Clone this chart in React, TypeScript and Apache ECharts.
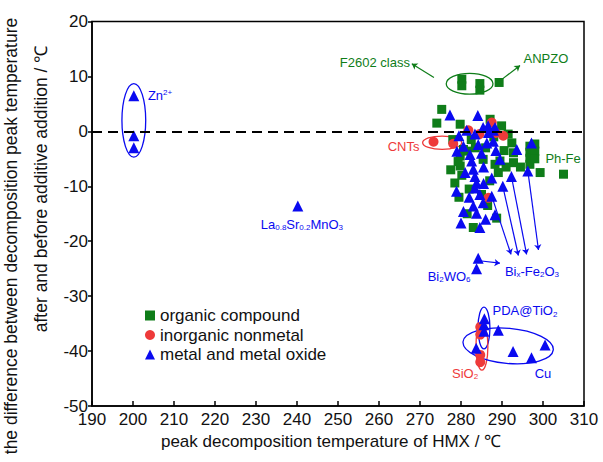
import React, { useEffect, useRef } from "react";
import * as echarts from "echarts";

const FONT = '"Liberation Sans", Arial, Helvetica, sans-serif';
const GREEN = "#0f7d19";
const RED = "#ee3a3a";
const BLUE = "#0a0af0";

const X_MIN = 190, X_MAX = 310, X_STEP = 10;
const Y_MIN = -50, Y_MAX = 20, Y_STEP = 10;

const seriesNames = ["organic compound", "inorganic nonmetal", "metal and metal oxide"];

const organic: number[][] = [
  [275.3, 4.0], [274.1, 1.5], [280.2, 9.5], [280.2, 8.3], [284.6, 8.7], [284.6, 7.5], [289.3, 8.9],
  [287.1, 2.2], [289.9, 1.0], [292.4, -2.1], [292.8, -3.9], [292.8, -5.7], [289.5, -5.4], [289.1, -7.5], [285.4, -5.1],
  [296.8, -2.7], [296.8, -3.8], [296.8, -4.9], [296.8, -6.0], [298.0, -2.3], [298.0, -3.6], [298.0, -5.0], [299.3, -7.5], [305.0, -7.8],
  [278.5, -9.4], [279.8, -4.5], [279.8, -6.3], [280.2, -8.0], [288.3, -6.0], [285.0, -11.5], [288.7, -15.8], [281.4, -3.6],
  [279.8, 1.3], [280.6, -3.3], [279.3, -5.5], [282.5, -1.5], [286.0, -3.0], [288.0, -1.0], [283.5, -3.0], [290.5, -3.5],
  [291.0, -6.5], [287.0, -9.0], [282.0, -10.5], [279.5, -12.0], [286.5, -13.5], [281.5, -15.0], [294.5, -6.5], [291.5, -0.5],
  [278.0, -1.5], [277.5, -7.0], [283.0, -17.5],
];

const inorganic: number[][] = [
  [273.3, -1.9], [278.1, -2.25], [281.8, 0.2], [287.5, 1.6], [290.3, -0.8], [286.7, -12.1], [284.5, -0.5], [288.5, -0.3],
  [284.7, -35.6], [284.7, -37.0], [284.7, -40.7], [284.7, -42.0],
];

const metal: number[][] = [
  [200.2, 6.5], [200.2, -0.8], [200.2, -3.0], [240.2, -13.6],
  [277.3, 3.0], [284.1, 2.9],
  [281.4, 0.2], [283.4, -0.5], [285.4, 0.7], [286.7, -0.2], [288.3, 0.7], [280.6, -2.7], [282.2, -4.2], [284.2, -2.4],
  [286.3, -2.1], [287.9, -1.8], [286.6, 1.0], [287.9, 0.2],
  [282.6, -5.4], [283.0, -6.9], [283.4, -8.2], [283.8, -9.4], [283.4, -10.3], [284.6, -11.5], [283.0, -13.6], [280.6, -14.6],
  [283.8, -14.9], [278.9, -10.9], [285.4, -13.0], [287.5, -8.5], [288.3, -15.2], [279.0, -3.6],
  [297.2, -2.1], [293.6, -3.3], [289.5, -5.1],
  [287.5, -11.8], [290.2, -10.0], [292.3, -8.2], [296.3, -7.2],
  [280.0, -16.7], [284.6, -17.5], [286.0, -16.0], [282.0, -12.0], [285.5, -6.5], [285.0, -4.0], [288.5, -3.5],
  [281.0, -7.5], [285.5, -9.5], [279.5, -0.8],
  [284.2, -23.1], [283.8, -25.0],
  [285.7, -34.1], [285.6, -35.2], [285.6, -36.4], [289.1, -36.2], [283.7, -39.5], [292.7, -40.1], [297.2, -41.2], [300.5, -38.9],
];

// ellipse annotations: [cx, cy, rx, ry, rotation(rad)]
const ellipseData: number[][] = [
  [200.2, 2.0, 2.9, 6.7, 0],
  [275.4, -2.07, 4.76, 1.22, 0],
  [282.1, 8.67, 5.7, 1.9, 0],
  [285.6, -35.8, 1.46, 3.8, 0],
  [285.1, -39.2, 1.46, 4.26, 0],
  [291.5, -39.05, 11.05, 3.2, -0.09],
];
const ellipseColors = [BLUE, RED, GREEN, BLUE, RED, BLUE];

// arrows: [x1, y1, x2, y2]
const arrowData: number[][] = [
  [273.4, 9.8, 268.0, 12.3],
  [290.2, 9.6, 294.4, 12.0],
  [285.0, -23.6, 289.5, -24.0],
  [287.5, -11.8, 292.2, -22.4],
  [290.2, -10.0, 294.0, -22.6],
  [292.3, -8.2, 296.0, -22.4],
  [296.3, -7.2, 298.9, -21.6],
];
const arrowColors = [GREEN, GREEN, BLUE, BLUE, BLUE, BLUE, BLUE];

const labelTexts = [
  "Zn{sup|2+}", "La{sub|0.8}Sr{sub|0.2}MnO{sub|3}", "F2602 class", "ANPZO", "CNTs", "Ph-Fe",
  "Bi{sub|2}WO{sub|6}", "Bi{sub|x}-Fe{sub|2}O{sub|3}", "PDA@TiO{sub|2}", "SiO{sub|2}", "Cu",
];
const labelPos: number[][] = [
  [206.6, 6.5], [241.2, -16.9], [259.0, 12.5], [300.7, 13.2], [266.0, -2.7], [304.9, -4.9],
  [277.1, -26.4], [297.3, -25.5], [295.6, -32.7], [281.0, -44.0], [300.0, -44.0],
];
const labelColors = [BLUE, BLUE, GREEN, GREEN, RED, GREEN, BLUE, BLUE, BLUE, RED, BLUE];

const yNameLines = [
  "the difference between decomposition peak temperature",
  "after and before additive addition / \u2103",
];

export default function App() {
  const ref = useRef<HTMLDivElement>(null);
  useEffect(() => {
    const chart = echarts.init(ref.current!, null, { renderer: "svg" });
    const option: any = {
      animation: false,
      backgroundColor: "#fff",
      textStyle: { fontFamily: FONT },
      grid: { left: 92, right: 19, top: 21.5, bottom: 56, show: true, borderColor: "#000", borderWidth: 1.5, backgroundColor: "transparent" },
      legend: {
        orient: "vertical",
        left: 140,
        top: 302,
        itemWidth: 10,
        itemHeight: 10,
        itemGap: 2.5,
        textStyle: { fontSize: 17, fontFamily: FONT, color: "#111", lineHeight: 17, padding: [0, 0, 0, 0] },
        data: [
          { name: seriesNames[0], icon: "rect", itemStyle: { color: GREEN } },
          { name: seriesNames[1], icon: "circle", itemStyle: { color: RED } },
          { name: seriesNames[2], icon: "triangle", itemStyle: { color: BLUE } },
        ],
      },
      xAxis: {
        type: "value",
        min: X_MIN,
        max: X_MAX,
        interval: X_STEP,
        name: "peak decomposition temperature of HMX / \u2103",
        nameLocation: "middle",
        nameGap: 24,
        nameTextStyle: { fontSize: 17, color: "#111", fontFamily: FONT, padding: [0, 14, 0, 0] },
        axisLine: { onZero: false, lineStyle: { color: "#000", width: 1.5 } },
        axisTick: { inside: true, length: 5, lineStyle: { color: "#000", width: 1.5 } },
        axisLabel: { fontSize: 17, color: "#111", margin: 5, fontFamily: FONT, showMinLabel: true, showMaxLabel: true },
        splitLine: { show: false },
      },
      yAxis: {
        type: "value",
        min: Y_MIN,
        max: Y_MAX,
        interval: Y_STEP,
        axisLine: { onZero: false, lineStyle: { color: "#000", width: 1.5 } },
        axisTick: { inside: false, length: 4, lineStyle: { color: "#000", width: 1.5 } },
        axisLabel: { fontSize: 17, color: "#111", margin: 4, fontFamily: FONT },
        splitLine: { show: false },
      },
      series: [
        {
          type: "custom",
          name: "ellipses",
          silent: true,
          z: 1,
          data: ellipseData,
          renderItem: (params: any, api: any) => {
            const c = api.coord([api.value(0), api.value(1)]);
            const s = api.size([api.value(2), api.value(3)]);
            return {
              type: "ellipse",
              x: c[0],
              y: c[1],
              rotation: api.value(4),
              shape: { cx: 0, cy: 0, rx: s[0], ry: s[1] },
              style: { fill: "none", stroke: ellipseColors[params.dataIndex], lineWidth: 1.3 },
            };
          },
        },
        {
          type: "scatter",
          name: seriesNames[0],
          symbol: "rect",
          symbolSize: 9,
          itemStyle: { color: GREEN, opacity: 1 },
          z: 2,
          data: organic,
          markLine: {
            silent: true,
            symbol: "none",
            label: { show: false },
            lineStyle: { color: "#000", width: 2, type: [10, 6] },
            data: [{ yAxis: 0 }],
          },
        },
        {
          type: "scatter",
          name: seriesNames[1],
          symbol: "circle",
          symbolSize: 10,
          itemStyle: { color: RED, opacity: 1 },
          z: 3,
          data: inorganic,
        },
        {
          type: "scatter",
          name: seriesNames[2],
          symbol: "triangle",
          symbolSize: 11,
          itemStyle: { color: BLUE, opacity: 1 },
          z: 4,
          data: metal,
        },
        {
          type: "lines",
          name: "arrows",
          coordinateSystem: "cartesian2d",
          silent: true,
          z: 5,
          symbol: ["none", "arrow"],
          symbolSize: 5.5,
          data: arrowData.map((a, i) => ({
            coords: [[a[0], a[1]], [a[2], a[3]]],
            lineStyle: { color: arrowColors[i], width: 1.2, opacity: 1 },
          })),
        },
      ],
    };
    chart.setOption(option);

    const graphics: any[] = [];
    labelTexts.forEach((t, i) => {
      const p = chart.convertToPixel({ gridIndex: 0 }, labelPos[i]) as number[];
      const col = labelColors[i];
      graphics.push({
        type: "text",
        x: p[0],
        y: p[1],
        z: 10,
        style: {
          text: t,
          fill: col,
          fontSize: 13,
          fontFamily: FONT,
          lineHeight: 15,
          align: "center",
          verticalAlign: "middle",
          textAlign: "center",
          textVerticalAlign: "middle",
          rich: {
            sub: { fontSize: 8, fill: col, fontFamily: FONT, verticalAlign: "bottom", lineHeight: 8 },
            sup: { fontSize: 8, fill: col, fontFamily: FONT, verticalAlign: "top", lineHeight: 8 },
          },
        },
      });
    });
    const yNameCenters = [[11, 236], [41, 189]];
    yNameLines.forEach((t, i) => {
      graphics.push({
        type: "text",
        x: yNameCenters[i][0],
        y: yNameCenters[i][1],
        rotation: Math.PI / 2,
        style: {
          text: t,
          fill: "#111",
          fontSize: 17.5,
          fontFamily: FONT,
          align: "center",
          verticalAlign: "middle",
          textAlign: "center",
          textVerticalAlign: "middle",
        },
      });
    });
    chart.setOption({ graphic: graphics });
    return () => chart.dispose();
  }, []);
  return <div ref={ref} style={{ position: "absolute", left: 0, top: 0, width: 603, height: 462 }} />;
}
